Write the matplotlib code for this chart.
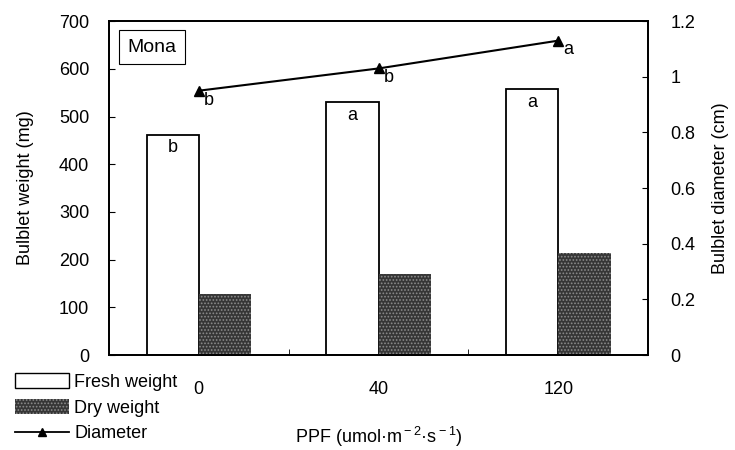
import matplotlib
matplotlib.use("Agg")
import matplotlib.pyplot as plt
import numpy as np
from matplotlib.patches import Patch
from matplotlib.lines import Line2D

plt.rcParams['font.family'] = ['Liberation Sans', 'DejaVu Sans']
plt.rcParams['hatch.linewidth'] = 0.8
plt.rcParams['mathtext.fontset'] = 'custom'
plt.rcParams['mathtext.rm'] = 'Liberation Sans'

# Data
ppf_levels = ["0", "40", "120"]
fresh_weight = [462, 530, 557]
dry_weight = [127, 170, 213]
diameter = [0.95, 1.03, 1.13]
fresh_letters = ["b", "a", "a"]
diameter_letters = ["b", "b", "a"]

FS = 13

fig = plt.figure(figsize=(7.35, 4.5), dpi=100)
ax = fig.add_axes([0.148, 0.211, 0.734, 0.742])
x = np.arange(len(ppf_levels))
w = 0.29

ax.bar(x - w / 2, fresh_weight, width=w, facecolor="white",
       edgecolor="black", linewidth=1.3, zorder=2)
ax.bar(x + w / 2, dry_weight, width=w, facecolor="#363636",
       edgecolor="#8c8c8c", hatch=".....", linewidth=0, zorder=2)

for xi, v, t in zip(x, fresh_weight, fresh_letters):
    ax.text(xi - w / 2, v - 10, t, ha="center", va="top", fontsize=FS)

ax.set_xlim(-0.5, len(ppf_levels) - 0.5)
ax.set_ylim(0, 700)
ax.set_yticks(np.arange(0, 701, 100))
ax.set_xticks(x)
ax.set_xticklabels(ppf_levels)
ax.set_xticks(np.arange(0.5, len(ppf_levels) - 0.5, 1), minor=True)
ax.tick_params(axis="x", which="major", length=0, labelsize=FS, pad=19)
ax.tick_params(axis="x", which="minor", direction="in", length=4)
ax.tick_params(axis="y", direction="in", length=4, labelsize=FS, pad=14)
for s in ax.spines.values():
    s.set_linewidth(1.3)
ax.set_ylabel("Bulblet weight (mg)", fontsize=FS, labelpad=18)
ax.set_xlabel(r"PPF (umol·m$^{\rm -2}$·s$^{\rm -1}$)", fontsize=FS, labelpad=19)

ax2 = ax.twinx()
ax2.plot(x, diameter, color="black", marker="^", markersize=7,
         linewidth=1.5, zorder=3)
for xi, v, t in zip(x, diameter, diameter_letters):
    ax2.text(xi + 0.03, v - 0.003, t, ha="left", va="top", fontsize=FS)
ax2.set_ylim(0, 1.2)
ax2.set_yticks([0, 0.2, 0.4, 0.6, 0.8, 1.0, 1.2])
ax2.set_yticklabels(["0", "0.2", "0.4", "0.6", "0.8", "1", "1.2"])
ax2.tick_params(axis="y", direction="in", length=4, labelsize=FS, pad=16)
ax2.set_ylabel("Bulblet diameter (cm)", fontsize=FS, labelpad=12)
for s in ax2.spines.values():
    s.set_linewidth(1.3)

ax.text(0.035, 0.922, "Mona", transform=ax.transAxes, fontsize=14,
        ha="left", va="center",
        bbox=dict(boxstyle="square,pad=0.45", facecolor="white",
                  edgecolor="black", linewidth=0.8))

handles = [
    Patch(facecolor="white", edgecolor="black", linewidth=1.0),
    Patch(facecolor="#363636", edgecolor="#8c8c8c", hatch=".....", linewidth=0),
    Line2D([0], [0], color="black", marker="^", markersize=6, linewidth=1.3),
]
fig.legend(handles, ["Fresh weight", "Dry weight", "Diameter"],
           loc="upper left", bbox_to_anchor=(0.005, 0.195), frameon=False,
           fontsize=FS, handlelength=3.0, handleheight=0.9, handletextpad=0.3,
           labelspacing=0.45, borderpad=0.1)

fig.savefig("out.png", dpi=100)
